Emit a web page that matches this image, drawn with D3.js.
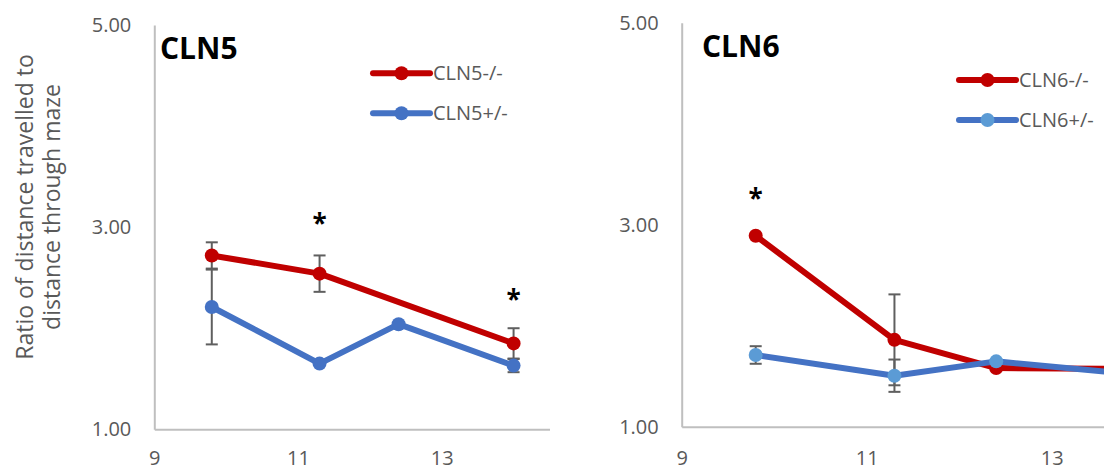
<!DOCTYPE html>
<html>
<head>
<meta charset="utf-8">
<script src="https://cdn.jsdelivr.net/npm/d3@7"></script>
<style>
  html, body { margin: 0; padding: 0; background: #fff; overflow: hidden; }
  svg { display: block; font-family: "Open Sans", sans-serif; }
</style>
</head>
<body>
<svg id="chart" width="1104" height="471"></svg>
<script>
// Age (months) at each test and mean ratio ± SEM per genotype
const ages = [9.8, 11.3, 12.4, 14.0];
const xTickValues = [9, 11, 13];
const yTickValues = [1, 3, 5];

const cln5Null = [2.72, 2.54, null, 1.85];
const cln5NullErr = [0.13, 0.18, null, 0.15];
const cln5Het = [2.21, 1.65, 2.04, 1.63];
const cln5HetErr = [0.37, 0, 0, 0.065];

const cln6Null = [2.89, 1.86, 1.58, 1.57];
const cln6NullErr = [0, 0.45, 0, 0];
const cln6Het = [1.71, 1.505, 1.647, 1.51];
const cln6HetErr = [0.087, 0.16, 0, 0];

// Significance markers: [age, ratio height]
const cln5Stars = [[11.3, 3.08], [14.0, 2.33]];
const cln6Stars = [[9.8, 3.30]];

const RED = "#C00000", BLUE = "#4472C4", LIGHT_BLUE = "#5B9BD5";
const TEXT_GREY = "#595959", AXIS_GREY = "#BFBFBF", ERR_GREY = "#5f5f5f";

const svg = d3.select("#chart");

const panels = [
  {
    title: "CLN5", titleX: 160, titleY: 58.5,
    left: 154.3, right: 549.5, top: 25, bottom: 429.3, xDomain: [9, 14.5],
    legendX: 373, legendY: [73.3, 113.3],
    stars: cln5Stars,
    series: [
      { name: "CLN5-/-", values: cln5Null, err: cln5NullErr, line: RED, marker: RED },
      { name: "CLN5+/-", values: cln5Het, err: cln5HetErr, line: BLUE, marker: BLUE }
    ]
  },
  {
    title: "CLN6", titleX: 702, titleY: 57,
    left: 681.7, right: 1236.7, top: 22.7, bottom: 426.7, xDomain: [9, 15],
    legendX: 959, legendY: [80, 120],
    stars: cln6Stars,
    series: [
      { name: "CLN6-/-", values: cln6Null, err: cln6NullErr, line: RED, marker: RED },
      { name: "CLN6+/-", values: cln6Het, err: cln6HetErr, line: BLUE, marker: LIGHT_BLUE }
    ]
  }
];

function drawPanel(p) {
  const x = d3.scaleLinear().domain(p.xDomain).range([p.left, p.right]);
  const y = d3.scaleLinear().domain([1, 5]).range([p.bottom, p.top]);
  const g = svg.append("g");

  // Axes; tick labels keep their baseline inside the canvas
  const xAxis = g.append("g")
    .attr("transform", `translate(0,${p.bottom})`)
    .call(d3.axisBottom(x).tickValues(xTickValues).tickSize(0).tickSizeOuter(0)
      .tickPadding(465.5 - p.bottom - 14.2).tickFormat(d3.format("d")));
  const yAxis = g.append("g")
    .attr("transform", `translate(${p.left},0)`)
    .call(d3.axisLeft(y).tickValues(yTickValues).tickSize(0).tickSizeOuter(0)
      .tickPadding(23).tickFormat(d3.format(".2f")));
  [xAxis, yAxis].forEach(a => {
    a.select(".domain").attr("stroke", AXIS_GREY).attr("stroke-width", 2);
    a.selectAll("text").attr("fill", TEXT_GREY)
      .style("font-family", '"Open Sans", sans-serif').style("font-size", "20px");
  });

  // Series: line, error bars, markers
  const line = d3.line().x(d => x(d.age)).y(d => y(d.v));
  p.series.forEach(s => {
    const pts = ages.map((a, i) => ({ age: a, v: s.values[i], e: s.err[i] }))
      .filter(d => d.v != null);
    g.append("path").datum(pts)
      .attr("d", line).attr("fill", "none")
      .attr("stroke", s.line).attr("stroke-width", 6).attr("stroke-linejoin", "round");

    const eb = g.append("g").attr("stroke", ERR_GREY).attr("stroke-width", 2);
    pts.filter(d => d.e > 0).forEach(d => {
      const cx = x(d.age), y0 = y(d.v - d.e), y1 = y(d.v + d.e);
      eb.append("line").attr("x1", cx).attr("x2", cx).attr("y1", y0).attr("y2", y1);
      eb.append("line").attr("x1", cx - 6).attr("x2", cx + 6).attr("y1", y0).attr("y2", y0);
      eb.append("line").attr("x1", cx - 6).attr("x2", cx + 6).attr("y1", y1).attr("y2", y1);
    });

    g.append("g").selectAll("circle").data(pts).join("circle")
      .attr("cx", d => x(d.age)).attr("cy", d => y(d.v)).attr("r", 7)
      .attr("fill", s.marker);
  });

  // Significance asterisks
  g.append("g").selectAll("text").data(p.stars).join("text")
    .attr("x", d => x(d[0])).attr("y", d => y(d[1]))
    .attr("dy", "0.53em").attr("text-anchor", "middle")
    .attr("font-weight", "bold").attr("font-size", 26).attr("fill", "#000")
    .text("*");

  // Panel title
  g.append("text").attr("x", p.titleX).attr("y", p.titleY)
    .attr("font-weight", "bold").attr("font-size", 30).attr("fill", "#000")
    .text(p.title);

  // Legend
  const lg = g.append("g");
  p.series.forEach((s, i) => {
    const ly = p.legendY[i];
    lg.append("line").attr("x1", p.legendX).attr("x2", p.legendX + 57)
      .attr("y1", ly).attr("y2", ly)
      .attr("stroke", s.line).attr("stroke-width", 6).attr("stroke-linecap", "round");
    lg.append("circle").attr("cx", p.legendX + 28.5).attr("cy", ly).attr("r", 7).attr("fill", s.marker);
    lg.append("text").attr("x", p.legendX + 60).attr("y", ly).attr("dy", "0.35em")
      .attr("font-size", 20).attr("fill", TEXT_GREY).text(s.name);
  });
}

panels.forEach(drawPanel);

// Shared y-axis title (two lines)
const yTitle = ["Ratio of distance travelled to", "distance through maze"];
svg.append("g").selectAll("text").data(yTitle).join("text")
  .attr("transform", (d, i) => `translate(${i === 0 ? 32.5 : 60},207) rotate(-90)`)
  .attr("text-anchor", "middle").attr("font-size", 23).attr("fill", TEXT_GREY)
  .text(d => d);
</script>
</body>
</html>
